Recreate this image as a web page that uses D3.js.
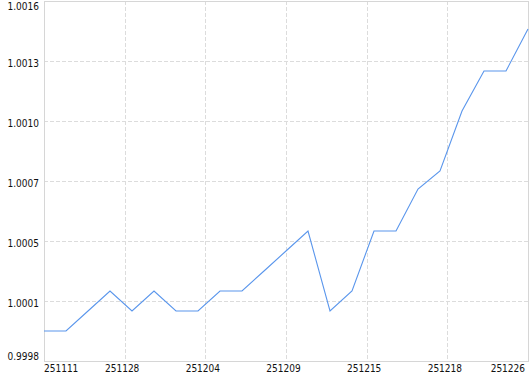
<!DOCTYPE html>
<html>
<head>
<meta charset="utf-8">
<script src="https://cdn.jsdelivr.net/npm/d3@7"></script>
<style>
  html, body { margin: 0; padding: 0; background: #fff; }
  svg { display: block; font-family: "DejaVu Sans Condensed", "DejaVu Sans", sans-serif; }
</style>
</head>
<body>
<div id="chart"></div>
<script>
// values, one per trading day
const values = [
  0.99995, 0.99995, 1.00005, 1.00015, 1.00005, 1.00015, 1.00005, 1.00005,
  1.00015, 1.00015, 1.00025, 1.00035, 1.00045, 1.00005, 1.00015, 1.00045,
  1.00045, 1.00066, 1.00075, 1.00105, 1.00125, 1.00125, 1.00146
];
const xTickLabels = ["251111", "251128", "251204", "251209", "251215", "251218", "251226"];
const yTickValues = [0.9998, 1.0001, 1.0004, 1.0007, 1.0010, 1.0013, 1.0016];
const yTickLabels = ["0.9998", "1.0001", "1.0005", "1.0007", "1.0010", "1.0013", "1.0016"];

(function () {
  const W = 530, H = 374;
  const margin = { top: 1, right: 2, bottom: 13, left: 44 };
  const width = W - margin.left - margin.right;
  const height = H - margin.top - margin.bottom;

  const svg = d3.select("#chart").append("svg")
    .attr("width", W)
    .attr("height", H);

  const g = svg.append("g")
    .attr("transform", `translate(${margin.left},${margin.top})`);

  const x = d3.scaleLinear().domain([0, values.length - 1]).range([0, width]);
  const y = d3.scaleLinear().domain([0.9998, 1.0016]).range([height, 0]);

  const nX = xTickLabels.length - 1;
  const xTicks = xTickLabels.map((d, i) => (values.length - 1) * i / nX);

  // grid
  g.append("g").selectAll("line")
    .data(yTickValues.slice(1, -1))
    .join("line")
    .attr("x1", 0).attr("x2", width)
    .attr("y1", d => Math.round(y(d)) + 0.5).attr("y2", d => Math.round(y(d)) + 0.5)
    .attr("stroke", "#dcdcdc")
    .attr("stroke-dasharray", "4,2");

  g.append("g").selectAll("line")
    .data(xTicks.slice(1, -1))
    .join("line")
    .attr("y1", 0).attr("y2", height)
    .attr("x1", d => Math.round(x(d)) + 0.5).attr("x2", d => Math.round(x(d)) + 0.5)
    .attr("stroke", "#dcdcdc")
    .attr("stroke-dasharray", "4,2");

  // frame
  g.append("rect")
    .attr("x", 0.5).attr("y", 0.5)
    .attr("width", width).attr("height", height)
    .attr("fill", "none")
    .attr("stroke", "#d6d6d6");

  // y labels
  g.append("g").selectAll("text")
    .data(yTickValues)
    .join("text")
    .attr("x", -5)
    .attr("y", (d, i) => {
      if (i === 0) return height - 1;
      if (i === yTickValues.length - 1) return 9;
      return y(d) + 5.5;
    })
    .attr("text-anchor", "end")
    .attr("font-size", "10px")
    .attr("fill", "#111")
    .text((d, i) => yTickLabels[i]);

  // x labels
  g.append("g").selectAll("text")
    .data(xTicks)
    .join("text")
    .attr("x", (d, i) => {
      if (i === 0) return 0;
      if (i === nX) return width - 3;
      return x(d) - 2.5;
    })
    .attr("y", height + 10.5)
    .attr("text-anchor", (d, i) => i === 0 ? "start" : i === nX ? "end" : "middle")
    .attr("font-size", "10px")
    .attr("fill", "#111")
    .text((d, i) => xTickLabels[i]);

  // series
  const line = d3.line()
    .x((d, i) => x(i))
    .y(d => y(d));

  g.append("path")
    .datum(values)
    .attr("d", line)
    .attr("fill", "none")
    .attr("stroke", "#5a96ec")
    .attr("stroke-width", 1.1);
})();
</script>
</body>
</html>
